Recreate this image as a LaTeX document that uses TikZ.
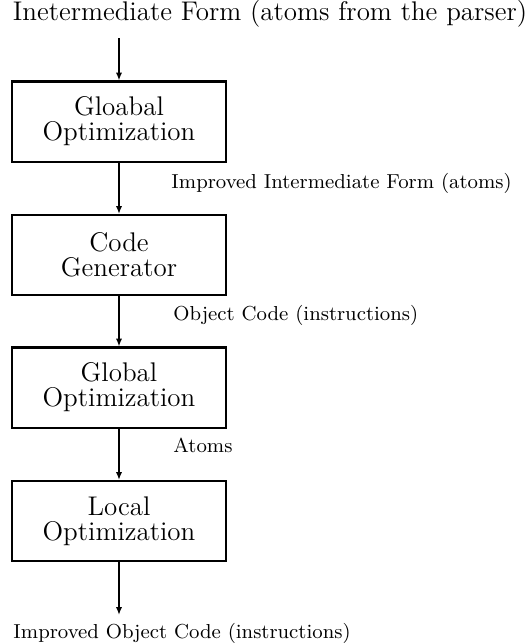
\documentclass[tikz,border=0pt]{standalone}
\usetikzlibrary{arrows.meta}
\begin{document}
\begin{tikzpicture}[x=0.4448pt,y=-0.4448pt,
  blk/.style={draw,line width=0.9pt,minimum width=95.2pt,minimum height=35.6pt,inner sep=0pt,align=center,font=\fontsize{12}{11.1}\selectfont},
  lbl/.style={anchor=base west,inner sep=0pt,font=\fontsize{9}{11}\selectfont},
  flow/.style={line width=0.8pt,-{Latex[length=3.5pt,width=2.8pt]}}]
\useasboundingbox (0,0) rectangle (529,644);
\node[anchor=base,inner sep=0pt,font=\fontsize{12}{14}\selectfont] (in) at (270,20) {Inetermediate Form (atoms from the parser)};
\coordinate (s0) at (119,38);
\node[blk] (g1) at (119,121.5) {Gloabal\\Optimization};
\node[blk] (cg) at (119,255) {Code\\Generator};
\node[blk] (g2) at (119,387.5) {Global\\Optimization};
\node[blk] (lo) at (119,521) {Local\\Optimization};
\node[lbl] (l1) at (171,188) {Improved Intermediate Form (atoms)};
\node[lbl] (l2) at (173,320) {Object Code (instructions)};
\node[lbl] (l3) at (173,452.5) {Atoms};
\node[lbl] (out) at (13,638) {Improved Object Code (instructions)};
\coordinate (e) at (119,615);
\draw[flow] (s0) -- (g1);
\draw[flow] (g1) -- (cg);
\draw[flow] (cg) -- (g2);
\draw[flow] (g2) -- (lo);
\draw[flow] (lo) -- (e);
\end{tikzpicture}
\end{document}
